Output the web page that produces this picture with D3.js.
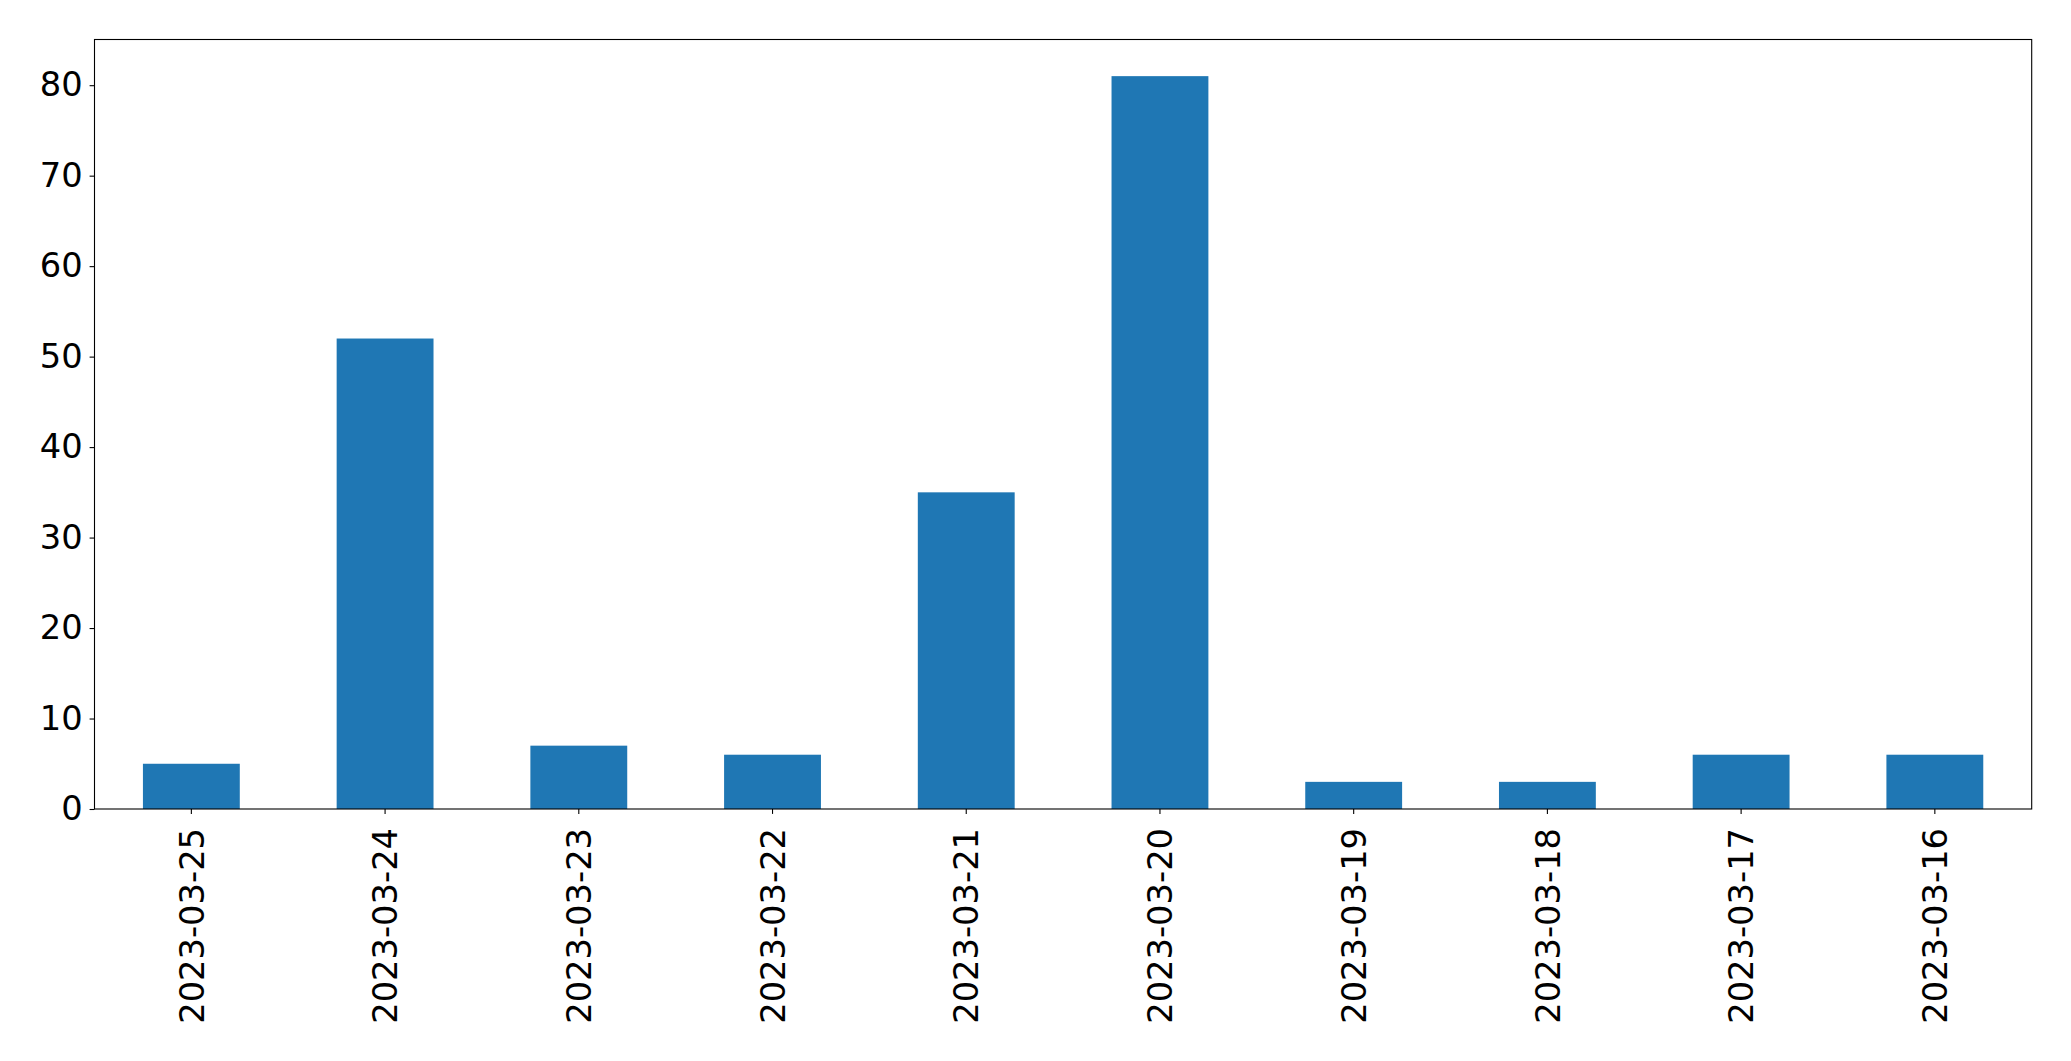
<!DOCTYPE html>
<html>
<head>
<meta charset="utf-8">
<script src="https://cdn.jsdelivr.net/npm/d3@7"></script>
<style>
html,body{margin:0;padding:0;background:#fff;}
svg{display:block;}
text{font-family:"DejaVu Sans",sans-serif;}
</style>
</head>
<body>
<svg id="chart" width="2071" height="1061"></svg>
<script>
const categories = ["2023-03-25","2023-03-24","2023-03-23","2023-03-22","2023-03-21","2023-03-20","2023-03-19","2023-03-18","2023-03-17","2023-03-16"];
const values = [5, 52, 7, 6, 35, 81, 3, 3, 6, 6];
const yTicks = [0, 10, 20, 30, 40, 50, 60, 70, 80];

const W = 2071, H = 1061;
const m = {left: 94.5, right: W - 2031.7, top: 39.5, bottom: H - 809};
const svg = d3.select("#chart");
const iw = W - m.left - m.right, ih = H - m.top - m.bottom;
const g = svg.append("g").attr("transform", `translate(${m.left},${m.top})`);

const x = d3.scaleBand().domain(categories).range([0, iw]).paddingInner(0.5).paddingOuter(0.25);
const y = d3.scaleLinear().domain([0, d3.max(values) * 1.05]).range([ih, 0]);

g.selectAll("rect.bar").data(values).join("rect")
  .attr("class", "bar")
  .attr("x", (d, i) => x(categories[i]))
  .attr("width", x.bandwidth())
  .attr("y", d => y(d))
  .attr("height", d => y(0) - y(d))
  .attr("fill", "#1f77b4");

const fs = 33.7;
const yAxis = g.append("g").call(d3.axisLeft(y).tickValues(yTicks).tickSize(4.9).tickPadding(7).tickFormat(d3.format("d")));
yAxis.select(".domain").remove();
yAxis.selectAll("line").attr("stroke", "#000").attr("stroke-width", 1.1);
yAxis.selectAll("text").attr("font-size", fs).attr("fill", "#000").attr("font-family", "DejaVu Sans");

const xAxis = g.append("g").attr("transform", `translate(0,${ih})`).call(d3.axisBottom(x).tickSize(4.9).tickPadding(0));
xAxis.select(".domain").remove();
xAxis.selectAll("line").attr("stroke", "#000").attr("stroke-width", 1.1);
xAxis.selectAll("text")
  .attr("font-size", fs).attr("fill", "#000").attr("font-family", "DejaVu Sans")
  .attr("text-anchor", "end")
  .attr("transform", "translate(0,19) rotate(-90)")
  .attr("x", 0).attr("y", 0).attr("dy", "0.36em");

g.append("rect").attr("x", 0).attr("y", 0).attr("width", iw).attr("height", ih)
  .attr("fill", "none").attr("stroke", "#000").attr("stroke-width", 1.1);
</script>
</body>
</html>
